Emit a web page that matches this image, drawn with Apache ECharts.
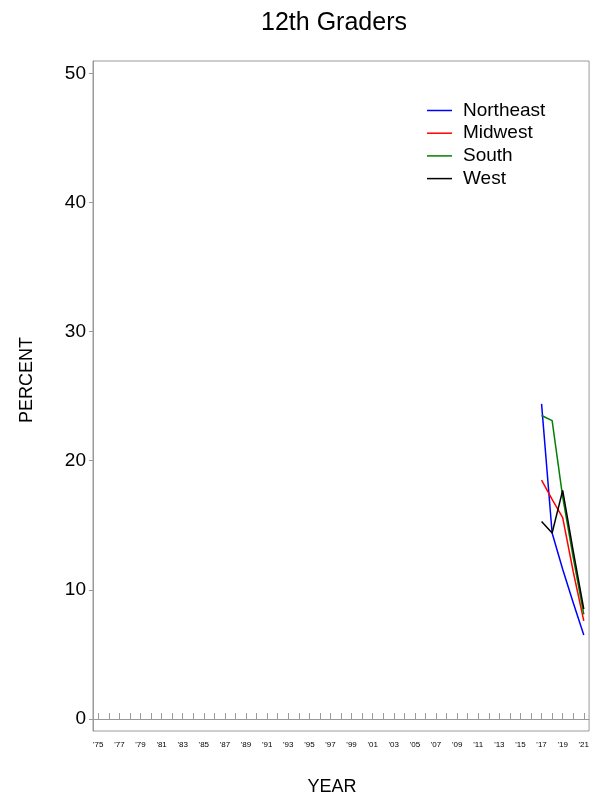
<!DOCTYPE html>
<html>
<head>
<meta charset="utf-8">
<script src="https://cdn.jsdelivr.net/npm/echarts@6/dist/echarts.min.js"></script>
<style>
html,body{margin:0;padding:0;background:#fff;}
#chart{width:592px;height:799px;}
</style>
</head>
<body>
<div id="chart"></div>
<script>
var years = [2017, 2018, 2019, 2020, 2021];
var northeast = [24.4, 14.4, 11.6, 9.0, 6.5];
var midwest = [18.5, 17.0, 15.6, 11.4, 7.6];
var south = [23.5, 23.1, 17.2, 12.5, 8.1];
var west = [15.3, 14.4, 17.7, 13.0, 8.5];
var yTicks = [0, 10, 20, 30, 40, 50];
var xTickYears = [];
for (var y = 1975; y <= 2021; y++) xTickYears.push(y);
var xLabelYears = [];
for (var y2 = 1975; y2 <= 2021; y2 += 2) xLabelYears.push(y2);

function pairs(vals) {
  return years.map(function (yr, i) { return [yr, vals[i]]; });
}

var font = 'Liberation Sans, Arial, sans-serif';
var axisColor = '#9a9a9a';
var chart = echarts.init(document.getElementById('chart'), null, {renderer: 'canvas'});

function lineSeries(name, vals, color) {
  return {
    name: name, type: 'line', data: pairs(vals), symbol: 'none',
    lineStyle: {color: color, width: 1.5}, itemStyle: {color: color},
    animation: false
  };
}

chart.setOption({
  animation: false,
  backgroundColor: '#fff',
  grid: {left: 93, right: 2.5, top: 61, bottom: 68, show: true, borderColor: axisColor, borderWidth: 1},
  graphic: [
    {type: 'text', x: 334, y: 23, style: {text: '12th Graders', font: '25px ' + font, fill: '#000', textAlign: 'center', textVerticalAlign: 'middle'}},
    {type: 'text', x: 332, y: 787, style: {text: 'YEAR', font: '18px ' + font, fill: '#000', textAlign: 'center', textVerticalAlign: 'middle'}},
    {type: 'text', x: 27, y: 380, rotation: Math.PI / 2, style: {text: 'PERCENT', font: '18px ' + font, fill: '#000', textAlign: 'center', textVerticalAlign: 'middle'}}
  ],
  legend: {
    orient: 'vertical', left: 427, top: 101, padding: 0, itemWidth: 25, itemHeight: 1.5, itemGap: 3.7,
    icon: 'rect',
    textStyle: {fontFamily: font, fontSize: 19, color: '#000', padding: [0, 0, 0, 6]},
    data: ['Northeast', 'Midwest', 'South', 'West']
  },
  xAxis: {
    type: 'value', min: 1974.5, max: 2021.5,
    axisLine: {show: true, lineStyle: {color: axisColor, width: 1}},
    axisTick: {show: true, inside: true, length: 6, customValues: xTickYears, lineStyle: {color: axisColor}},
    axisLabel: {show: true, customValues: xLabelYears, margin: 10, fontFamily: font, fontSize: 8, color: '#000',
      formatter: function (v) { return "'" + String(Math.round(v)).slice(2); }},
    splitLine: {show: false}
  },
  yAxis: {
    type: 'value', min: -0.93, max: 50.95,
    axisLine: {show: true, lineStyle: {color: axisColor, width: 1}},
    axisTick: {show: true, inside: false, length: 4, customValues: yTicks, lineStyle: {color: axisColor}},
    axisLabel: {show: true, customValues: yTicks, margin: 7, fontFamily: font, fontSize: 19, color: '#000'},
    splitLine: {show: false}
  },
  series: [
    lineSeries('Northeast', northeast, '#0000ff'),
    lineSeries('Midwest', midwest, '#ff0000'),
    lineSeries('South', south, '#008000'),
    lineSeries('West', west, '#000000')
  ]
});
</script>
</body>
</html>
